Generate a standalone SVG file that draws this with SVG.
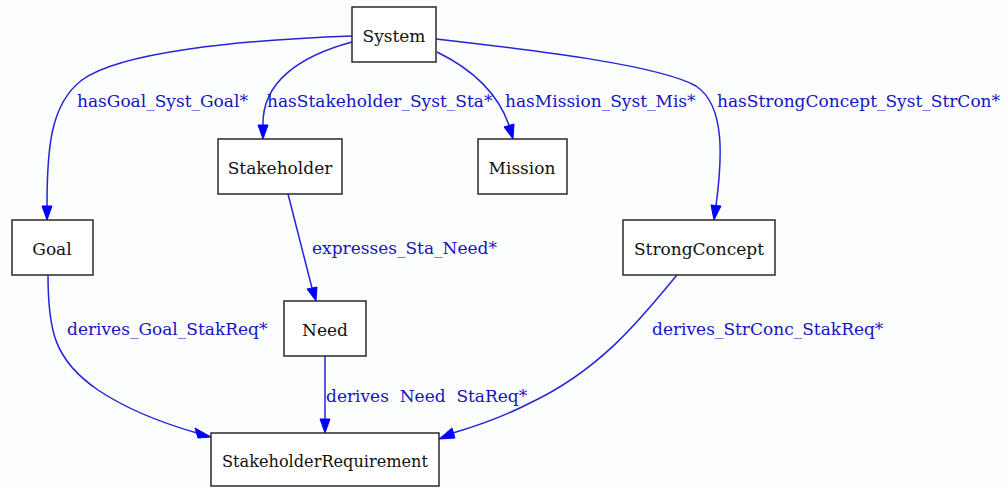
<svg xmlns="http://www.w3.org/2000/svg" width="1008" height="488" viewBox="0 0 1008 488">
  <style>
    .node rect { fill: #ffffff; stroke: #2a2a2a; stroke-width: 1.5; }
    .node text { font-family: 'DejaVu Serif', serif; font-size: 17px; fill: #111111; text-anchor: middle; }
    .edge path { fill: none; stroke: #2424d8; stroke-width: 1.5; }
    .edge polygon { fill: #0000ff; stroke: #0000ff; stroke-width: 1; }
    .lbl { font-family: 'DejaVu Serif', serif; font-size: 17px; fill: #1414c0; white-space: pre; }
  </style>
  <rect x="0" y="0" width="1008" height="488" fill="#fcfdfd"/>

  <g id="connectors">
    <!-- System -> Goal -->
    <g class="edge">
      <path d="M352,36 C240,40 120,52 82,80 C50,104 47,150 47,206"/>
      <polygon points="42,206 52,206 47,220"/>
      <text class="lbl" x="77" y="107">hasGoal_Syst_Goal*</text>
    </g>
    <!-- System -> Stakeholder -->
    <g class="edge">
      <path d="M352,42 C300,56 262,82 263,125"/>
      <polygon points="258,125 268,125 263,139"/>
      <text class="lbl" x="267" y="107">hasStakeholder_Syst_Sta*</text>
    </g>
    <!-- System -> Mission -->
    <g class="edge">
      <path d="M437,52 C474,70 498,94 509,125"/>
      <polygon points="504,127 514,124 513,139"/>
      <text class="lbl" x="505" y="107">hasMission_Syst_Mis*</text>
    </g>
    <!-- System -> StrongConcept -->
    <g class="edge">
      <path d="M436,39 C550,52 660,66 696,86 C726,106 722,160 716,206"/>
      <polygon points="711,205 721,206 714,220"/>
      <text class="lbl" x="717" y="107">hasStrongConcept_Syst_StrCon*</text>
    </g>
    <!-- Stakeholder -> Need -->
    <g class="edge">
      <path d="M288,194 L312,288"/>
      <polygon points="307,289 317,287 316,301"/>
      <text class="lbl" x="312" y="254">expresses_Sta_Need*</text>
    </g>
    <!-- Goal -> StakeholderRequirement -->
    <g class="edge">
      <path d="M48,275 C48,330 54,360 98,390 C128,410 162,423 197,433"/>
      <polygon points="195,428 198,438 211,437"/>
      <text class="lbl" x="67" y="335">derives_Goal_StakReq*</text>
    </g>
    <!-- Need -> StakeholderRequirement -->
    <g class="edge">
      <path d="M325,356 L325,419"/>
      <polygon points="320,419 330,419 325,433"/>
      <text class="lbl" x="326" y="402">derives  Need  StaReq*</text>
    </g>
    <!-- StrongConcept -> StakeholderRequirement -->
    <g class="edge">
      <path d="M677,275 C640,320 600,370 530,403 C505,416 480,425 453,433"/>
      <polygon points="452,428 455,438 439,439"/>
      <text class="lbl" x="652" y="335">derives_StrConc_StakReq*</text>
    </g>
  </g>

  <g id="System" class="node">
    <rect x="352" y="7" width="84" height="55"/>
    <text x="394" y="42">System</text>
  </g>
  <g id="Stakeholder" class="node">
    <rect x="218" y="139" width="124" height="55"/>
    <text x="280" y="174">Stakeholder</text>
  </g>
  <g id="Mission" class="node">
    <rect x="478" y="139" width="89" height="55"/>
    <text x="522" y="174">Mission</text>
  </g>
  <g id="Goal" class="node">
    <rect x="12" y="220" width="81" height="55"/>
    <text x="52" y="255">Goal</text>
  </g>
  <g id="StrongConcept" class="node">
    <rect x="623" y="220" width="152" height="55"/>
    <text x="699" y="255">StrongConcept</text>
  </g>
  <g id="Need" class="node">
    <rect x="284" y="301" width="82" height="55"/>
    <text x="325" y="336">Need</text>
  </g>
  <g id="StakeholderRequirement" class="node">
    <rect x="211" y="433" width="228" height="53"/>
    <text x="325" y="467" textLength="206" lengthAdjust="spacingAndGlyphs">StakeholderRequirement</text>
  </g>
</svg>
